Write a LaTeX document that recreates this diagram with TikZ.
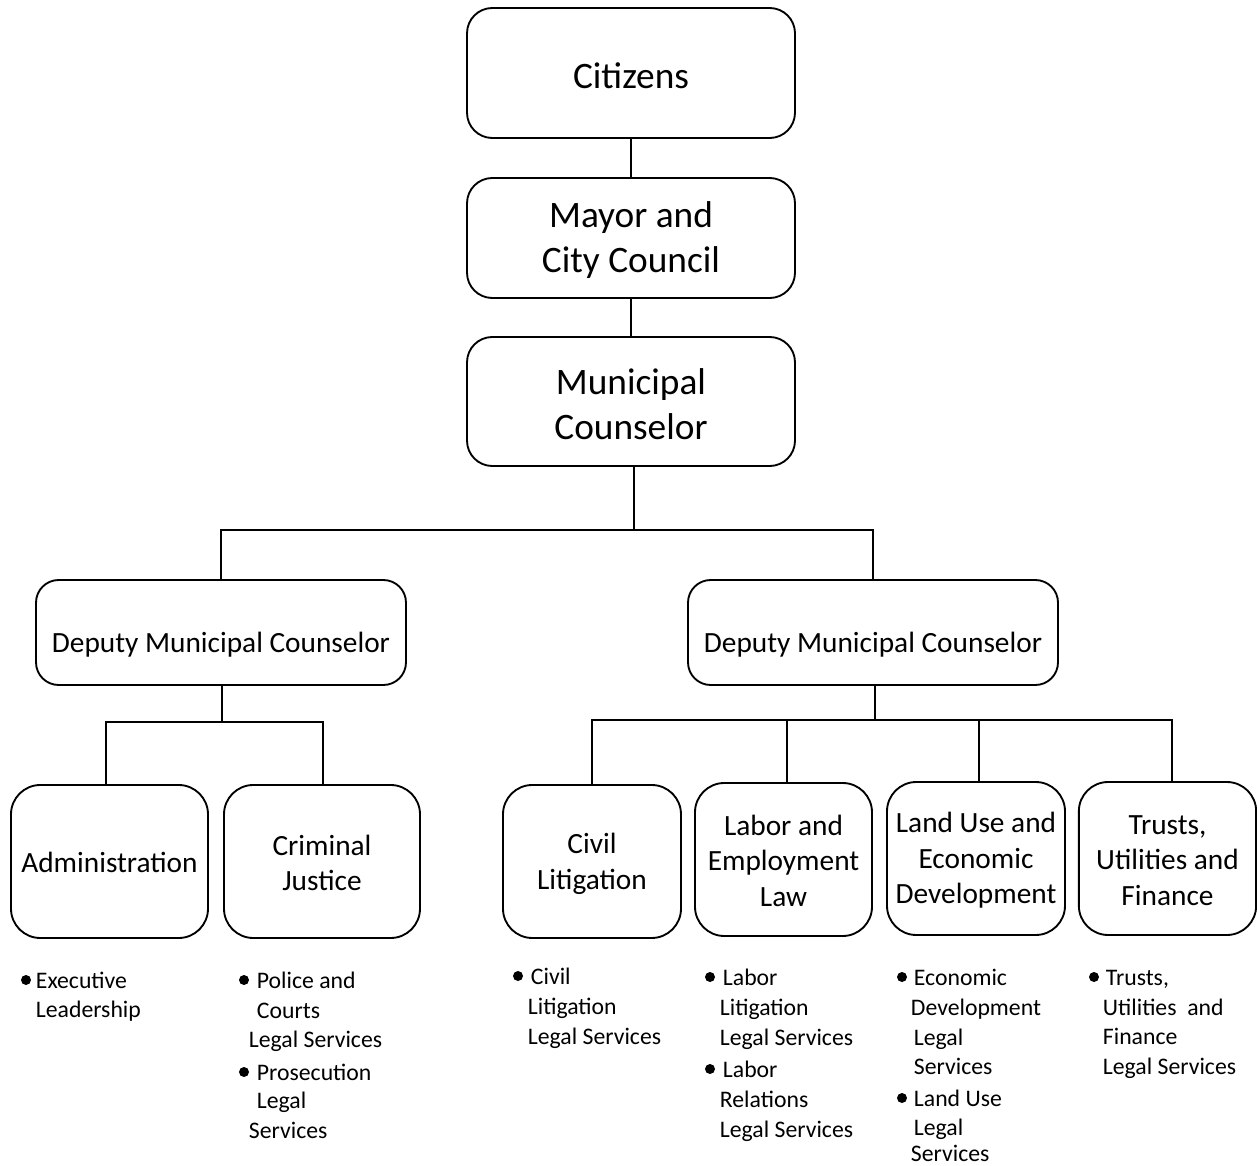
\documentclass[tikz,border=0pt]{standalone}
\usepackage{fontspec}
\setmainfont{Carlito}
\begin{document}
\begin{tikzpicture}[x=0.75pt,y=-0.75pt,
  line width=1.4pt,
  topbox/.style={draw,rounded corners=19pt,minimum width=246pt,inner sep=0pt},
  toptext/.style={align=center,inner sep=0pt,font=\fontsize{28}{33.75}\selectfont},
  depbox/.style={draw,rounded corners=17pt,minimum width=277.5pt,minimum height=78.75pt,inner sep=0pt},
  deptext/.style={align=center,inner sep=0pt,font=\fontsize{22}{26}\selectfont},
  unitbox/.style={draw,rounded corners=22pt,minimum height=114.75pt,inner sep=0pt},
  unittext/.style={align=center,inner sep=0pt,font=\fontsize{22}{26.6}\selectfont},
  btext/.style={anchor=base west,inner sep=0pt,font=\fontsize{17.8}{21}\selectfont},
  bul/.style={circle,fill,inner sep=0pt,minimum size=7.5pt}]
\useasboundingbox (0,0) rectangle (1257,1166);
\newcommand\bline[4]{\node[btext] (#1) at (#2,#3) {#4};}
\newcommand\bdot[3]{\node[bul] (#1) at (#2,#3) {};}

% top chain
\node[topbox,minimum height=97.5pt] (cit) at (631,73) {};
\node[toptext] (citT) at (631,75.5) {Citizens};
\node[topbox,minimum height=90pt] (may) at (631,238) {};
\node[toptext] (mayT) at (631,240.5) {Mayor and\\City Council};
\node[topbox,minimum height=96.75pt] (mun) at (631,401.5) {};
\node[toptext] (munT) at (631,404) {Municipal\\Counselor};

% deputies
\node[depbox] (depL) at (221,632.5) {};
\node[deptext] (depLT) at (221,645) {Deputy Municipal Counselor};
\node[depbox] (depR) at (873,632.5) {};
\node[deptext] (depRT) at (873,645) {Deputy Municipal Counselor};

% units
\node[unitbox,minimum width=147.75pt] (adm) at (109.5,861.5) {};
\node[unittext] (admT) at (109.5,862.5) {Administration};
\node[unitbox,minimum width=147pt] (crim) at (322,861.5) {};
\node[unittext] (crimT) at (322,863) {Criminal\\Justice};
\node[unitbox,minimum width=133.5pt] (civ) at (592,861.5) {};
\node[unittext] (civT) at (592,864) {Civil\\Litigation};
\node[unitbox,minimum width=132.75pt] (lab) at (783.5,859.5) {};
\node[unittext] (labT) at (783.5,860.5) {Labor and\\Employment\\Law};
\node[unitbox,minimum width=133.5pt] (land) at (976,858.5) {};
\node[unittext] (landT) at (976,860.5) {Land Use and\\Economic\\Development};
\node[unitbox,minimum width=133pt] (tru) at (1167.5,858.5) {};
\node[unittext] (truT) at (1167.5,860.5) {Trusts,\\Utilities and\\Finance};

% connectors
\coordinate (j1) at (634,530);
\coordinate (j2) at (222,722);
\coordinate (j3) at (875,720);
\draw (cit.south) -- (may.north);
\draw (may.south) -- (mun.north);
\draw (mun.south -| j1) -- (j1);
\draw (depL.north) |- (j1) -| (depR.north);
\draw (depL.south -| j2) -- (j2);
\draw ([xshift=-2.6pt]adm.north) |- (j2) -| ([xshift=0.75pt]crim.north);
\draw (depR.south -| j3) -- (j3);
\draw (civ.north) |- (j3) -| ([xshift=3.4pt]tru.north);
\draw ([xshift=2.6pt]lab.north) -- ([xshift=2.6pt]lab.north |- j3);
\draw ([xshift=2.2pt]land.north) -- ([xshift=2.2pt]land.north |- j3);

% bullet lists
\bdot{ba1}{26}{980}
\bline{a1}{35}{988}{Executive}
\bline{a2}{35}{1017}{Leadership}

\bdot{bc1}{244}{980}
\bline{c1}{256}{988}{Police and}
\bline{c2}{256}{1018}{Courts}
\bline{c3}{248}{1047}{Legal Services}
\bdot{bc2}{244}{1072}
\bline{c4}{256}{1080}{Prosecution}
\bline{c5}{256}{1108}{Legal}
\bline{c6}{248}{1138}{Services}

\bdot{bv1}{518}{976}
\bline{v1}{530}{984}{Civil}
\bline{v2}{527}{1014}{Litigation}
\bline{v3}{527}{1044}{Legal Services}

\bdot{bl1}{710}{977}
\bline{l1}{722}{985}{Labor}
\bline{l2}{719}{1015}{Litigation}
\bline{l3}{719}{1045}{Legal Services}
\bdot{bl2}{710}{1069}
\bline{l4}{722}{1077}{Labor}
\bline{l5}{719}{1107}{Relations}
\bline{l6}{719}{1137}{Legal Services}

\bdot{bd1}{902}{977}
\bline{d1}{913}{985}{Economic}
\bline{d2}{910}{1015}{Development}
\bline{d3}{913}{1045}{Legal}
\bline{d4}{913}{1074}{Services}
\bdot{bd2}{902}{1098}
\bline{d5}{913}{1106}{Land Use}
\bline{d6}{913}{1135}{Legal}
\bline{d7}{910}{1161}{Services}

\bdot{bt1}{1094}{977}
\bline{t1}{1105}{985}{Trusts,}
\bline{t2}{1102}{1015}{Utilities\ \ and}
\bline{t3}{1102}{1044}{Finance}
\bline{t4}{1102}{1074}{Legal Services}
\end{tikzpicture}
\end{document}
